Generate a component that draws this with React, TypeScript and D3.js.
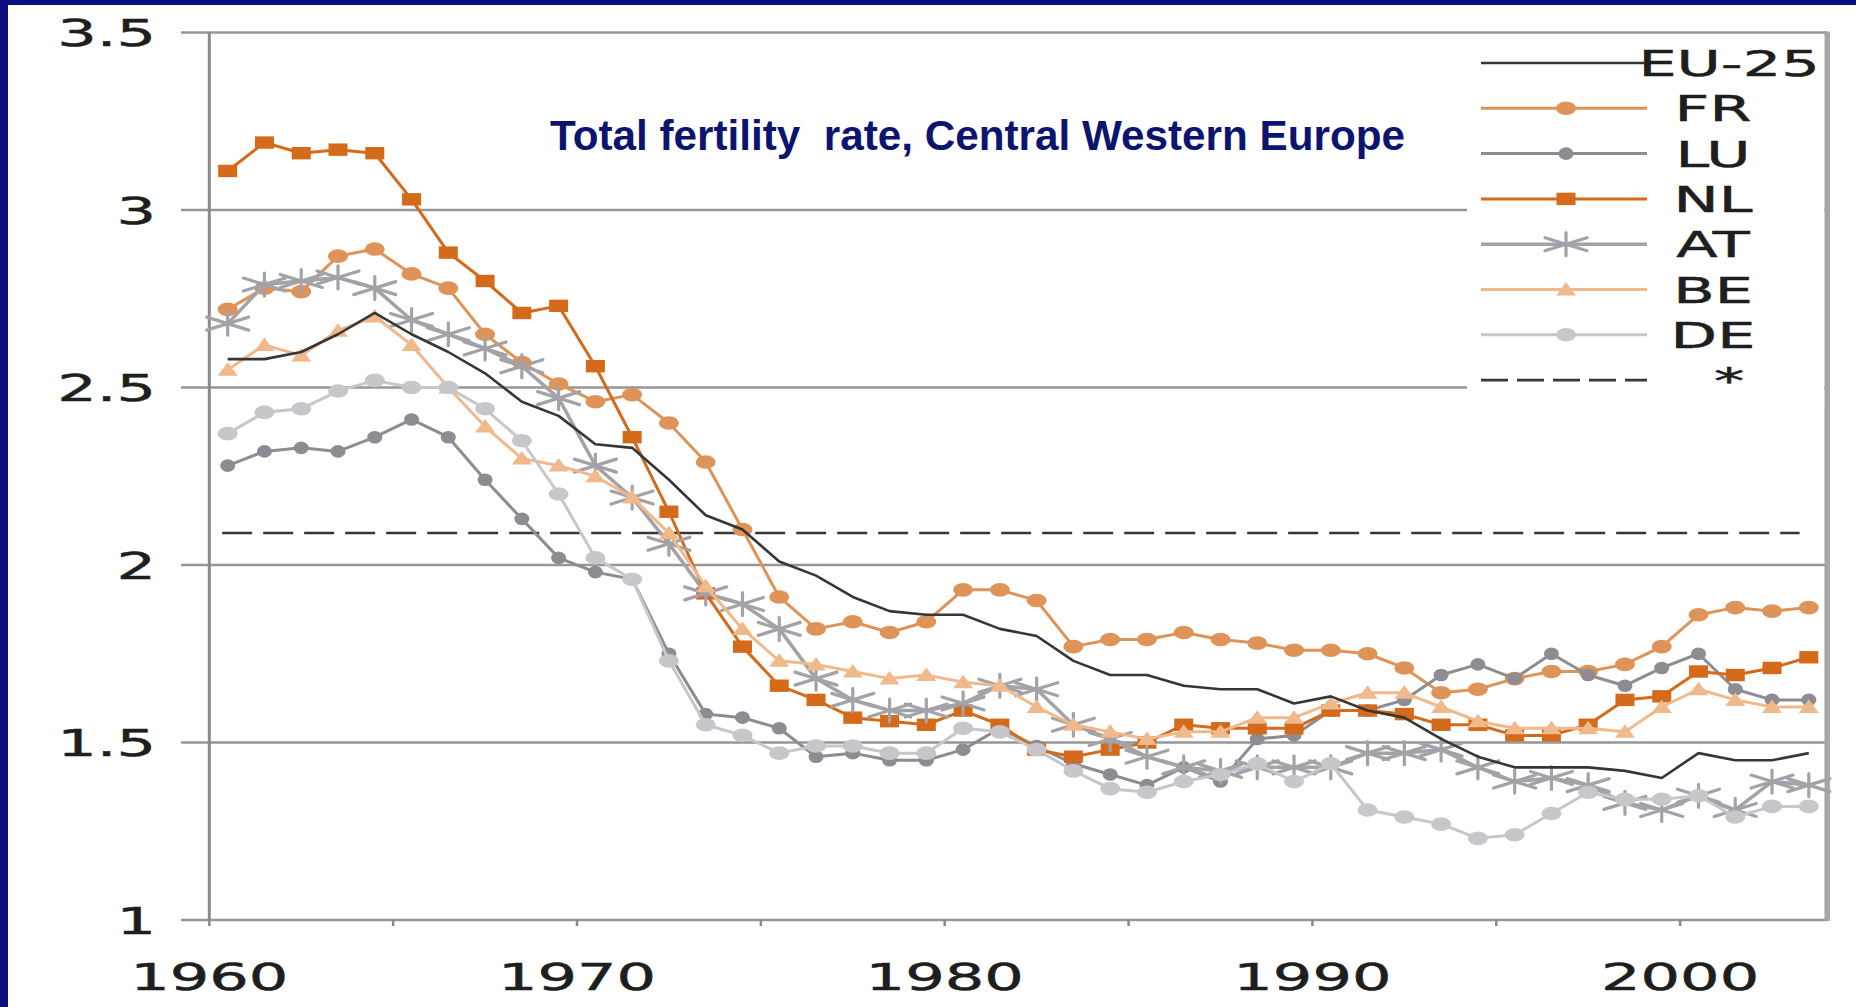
import React from 'react';
import * as d3 from 'd3';

const years = [1960, 1961, 1962, 1963, 1964, 1965, 1966, 1967, 1968, 1969,
  1970, 1971, 1972, 1973, 1974, 1975, 1976, 1977, 1978, 1979,
  1980, 1981, 1982, 1983, 1984, 1985, 1986, 1987, 1988, 1989,
  1990, 1991, 1992, 1993, 1994, 1995, 1996, 1997, 1998, 1999,
  2000, 2001, 2002, 2003];

const eu25 = [2.58, 2.58, 2.60, 2.65, 2.71, 2.65, 2.60, 2.54, 2.46, 2.42,
  2.34, 2.33, 2.24, 2.14, 2.10, 2.01, 1.97, 1.91, 1.87, 1.86,
  1.86, 1.82, 1.80, 1.73, 1.69, 1.69, 1.66, 1.65, 1.65, 1.61,
  1.63, 1.59, 1.57, 1.51, 1.46, 1.43, 1.43, 1.43, 1.42, 1.40,
  1.47, 1.45, 1.45, 1.47];
const fr = [2.72, 2.78, 2.77, 2.87, 2.89, 2.82, 2.78, 2.65, 2.57, 2.51,
  2.46, 2.48, 2.40, 2.29, 2.10, 1.91, 1.82, 1.84, 1.81, 1.84,
  1.93, 1.93, 1.90, 1.77, 1.79, 1.79, 1.81, 1.79, 1.78, 1.76,
  1.76, 1.75, 1.71, 1.64, 1.65, 1.68, 1.70, 1.70, 1.72, 1.77,
  1.86, 1.88, 1.87, 1.88];
const lu = [2.28, 2.32, 2.33, 2.32, 2.36, 2.41, 2.36, 2.24, 2.13, 2.02,
  1.98, 1.96, 1.75, 1.58, 1.57, 1.54, 1.46, 1.47, 1.45, 1.45,
  1.48, 1.54, 1.49, 1.44, 1.41, 1.38, 1.43, 1.39, 1.51, 1.52,
  1.59, 1.59, 1.62, 1.69, 1.72, 1.68, 1.75, 1.69, 1.66, 1.71,
  1.75, 1.65, 1.62, 1.62];
const nl = [3.11, 3.19, 3.16, 3.17, 3.16, 3.03, 2.88, 2.80, 2.71, 2.73,
  2.56, 2.36, 2.15, 1.92, 1.77, 1.66, 1.62, 1.57, 1.56, 1.55,
  1.59, 1.55, 1.48, 1.46, 1.48, 1.50, 1.55, 1.54, 1.54, 1.54,
  1.59, 1.59, 1.58, 1.55, 1.55, 1.52, 1.52, 1.55, 1.62, 1.63,
  1.70, 1.69, 1.71, 1.74];
const at = [2.68, 2.79, 2.80, 2.81, 2.78, 2.69, 2.65, 2.61, 2.56, 2.47,
  2.28, 2.19, 2.06, 1.92, 1.89, 1.82, 1.68, 1.62, 1.59, 1.59,
  1.61, 1.66, 1.65, 1.55, 1.51, 1.46, 1.43, 1.42, 1.43, 1.43,
  1.43, 1.47, 1.47, 1.48, 1.43, 1.39, 1.40, 1.38, 1.33, 1.31,
  1.35, 1.31, 1.39, 1.38];
const be = [2.55, 2.62, 2.59, 2.66, 2.70, 2.62, 2.50, 2.39, 2.30, 2.28,
  2.25, 2.19, 2.09, 1.94, 1.82, 1.73, 1.72, 1.70, 1.68, 1.69,
  1.67, 1.66, 1.60, 1.55, 1.53, 1.51, 1.53, 1.53, 1.57, 1.57,
  1.61, 1.64, 1.64, 1.60, 1.56, 1.54, 1.54, 1.54, 1.53, 1.60,
  1.65, 1.62, 1.60, 1.60];
const de = [2.37, 2.43, 2.44, 2.49, 2.52, 2.50, 2.50, 2.44, 2.35, 2.20,
  2.02, 1.96, 1.73, 1.55, 1.52, 1.47, 1.49, 1.49, 1.47, 1.47,
  1.54, 1.53, 1.48, 1.42, 1.37, 1.36, 1.39, 1.41, 1.44, 1.39,
  1.44, 1.31, 1.29, 1.27, 1.23, 1.24, 1.30, 1.36, 1.34, 1.34,
  1.35, 1.29, 1.32, 1.32];

const replacementLevel = 2.09;

const yTicks = [1, 1.5, 2, 2.5, 3, 3.5];
const yTickLabels = ['1', '1.5', '2', '2.5', '3', '3.5'];
const xTickPositions = [1959.5, 1964.5, 1969.5, 1974.5, 1979.5, 1984.5, 1989.5, 1994.5, 1999.5];
const xLabelPositions = [1959.5, 1969.5, 1979.5, 1989.5, 1999.5];
const xTickLabels = ['1960', '1970', '1980', '1990', '2000'];

const legendLabels = ['EU-25', 'FR', 'LU', 'NL', 'AT', 'BE', 'DE', '*'];
const titleText = 'Total fertility  rate, Central Western Europe';

type MarkerType = 'none' | 'circle' | 'smallCircle' | 'square' | 'star' | 'triangle' | 'dash';

const series: { name: string; values: number[] | null; color: string; width: number; marker: MarkerType }[] = [
  { name: 'EU-25', values: eu25, color: '#363636', width: 2.6, marker: 'none' },
  { name: 'FR', values: fr, color: '#de9458', width: 3, marker: 'circle' },
  { name: 'LU', values: lu, color: '#8c8c92', width: 3, marker: 'smallCircle' },
  { name: 'NL', values: nl, color: '#d46a1a', width: 3, marker: 'square' },
  { name: 'AT', values: at, color: '#a2a2a8', width: 3.5, marker: 'star' },
  { name: 'BE', values: be, color: '#f0b98c', width: 3, marker: 'triangle' },
  { name: 'DE', values: de, color: '#c6c6cb', width: 3, marker: 'circle' },
  { name: '*', values: null, color: '#363636', width: 2.6, marker: 'dash' },
];

const W = 1856;
const H = 1007;
const SX = 1.68;
const AXIS_FONT = '"DejaVu Sans", Verdana, sans-serif';

const x = d3.scaleLinear().domain([1959.5, 2003.5]).range([209.3, 1827.2]);
const y = d3.scaleLinear().domain([1, 3.5]).range([920, 32.5]);

function Marker({ type, cx, cy, color }: { type: MarkerType; cx: number; cy: number; color: string }) {
  switch (type) {
    case 'circle':
      return <ellipse cx={cx} cy={cy} rx={10} ry={6.8} fill={color} />;
    case 'smallCircle':
      return <ellipse cx={cx} cy={cy} rx={7.5} ry={6.3} fill={color} />;
    case 'square':
      return <rect x={cx - 9.5} y={cy - 6.2} width={19} height={12.4} fill={color} />;
    case 'triangle':
      return <path d={`M${cx - 10},${cy + 6} L${cx},${cy - 7.5} L${cx + 10},${cy + 6} Z`} fill={color} />;
    case 'star': {
      const rv = 11.5;
      const dx = 21;
      const dy = 6.5;
      return (
        <g stroke={color} strokeWidth={3.2} strokeLinecap="round">
          <line x1={cx} y1={cy - rv} x2={cx} y2={cy + rv} />
          <line x1={cx - dx} y1={cy - dy} x2={cx + dx} y2={cy + dy} />
          <line x1={cx - dx} y1={cy + dy} x2={cx + dx} y2={cy - dy} />
        </g>
      );
    }
    default:
      return null;
  }
}

function StretchText({ tx, ty, text, size, anchor, fill }: { tx: number; ty: number; text: string; size: number; anchor: 'start' | 'middle' | 'end'; fill: string }) {
  return (
    <g transform={`translate(${tx},${ty}) scale(${SX},1)`}>
      <text x={0} y={0} fontFamily={AXIS_FONT} fontSize={size} textAnchor={anchor} fill={fill}
        stroke={fill} strokeWidth={0.5}>{text}</text>
    </g>
  );
}

export default function App() {
  const lineGen = d3.line<number>().x((_, i) => x(years[i])).y((d) => y(d));
  const left = 181;
  const right = x.range()[1];
  const plotTop = y(3.5);
  const plotBottom = y(1);
  const gridColor = '#969696';

  const legendTop = 63;
  const legendStep = 45.3;
  const legLineX1 = 1481;
  const legLineX2 = 1647;
  const legMarkerX = 1566;

  const drawOrder = [1, 2, 3, 4, 5, 6, 0];

  return (
    <svg width={W} height={H} viewBox={`0 0 ${W} ${H}`} style={{ position: 'fixed', left: 0, top: 0, display: 'block' }}>
      <rect x={0} y={0} width={W} height={H} fill="#ffffff" />
      {/* slide border */}
      <rect x={0} y={0} width={W} height={5} fill="#0a0f80" />
      <rect x={0} y={0} width={8} height={H} fill="#0a0f80" />

      {/* gridlines */}
      {yTicks.map((t) => (
        <line key={`g${t}`} x1={left} x2={right} y1={y(t)} y2={y(t)} stroke={gridColor} strokeWidth={2.6} />
      ))}
      {/* y axis */}
      <line x1={x(1959.5)} x2={x(1959.5)} y1={plotTop} y2={plotBottom} stroke="#8a8a8a" strokeWidth={3} />
      {/* right frame */}
      <line x1={right} x2={right} y1={plotTop - 1} y2={plotBottom + 1} stroke="#a6a6a6" strokeWidth={5.5} />
      {/* x ticks */}
      {xTickPositions.map((t) => (
        <line key={`xt${t}`} x1={x(t)} x2={x(t)} y1={plotBottom} y2={plotBottom + 6} stroke="#8a8a8a" strokeWidth={2.5} />
      ))}

      {/* y tick labels */}
      {yTicks.map((t, i) => (
        <StretchText key={`yl${t}`} tx={156} ty={y(t) + 13.5} text={yTickLabels[i]} size={37} anchor="end" fill="#1e1e1e" />
      ))}
      {/* x tick labels */}
      {xLabelPositions.map((t, i) => (
        <StretchText key={`xl${t}`} tx={x(t)} ty={990} text={xTickLabels[i]} size={37} anchor="middle" fill="#1e1e1e" />
      ))}

      {/* replacement level dashed line */}
      <line x1={x(1959.85)} x2={x(2002.75)} y1={y(replacementLevel)} y2={y(replacementLevel)} stroke="#363636" strokeWidth={2.6} strokeDasharray="30 11" />

      {/* series */}
      {drawOrder.map((si) => {
        const s = series[si];
        if (!s.values) return null;
        return (
          <g key={s.name}>
            <path d={lineGen(s.values) || ''} fill="none" stroke={s.color} strokeWidth={s.width} strokeLinejoin="round" />
            {s.values.map((v, i) => (
              <Marker key={i} type={s.marker} cx={x(years[i])} cy={y(v)} color={s.color} />
            ))}
          </g>
        );
      })}

      {/* legend */}
      <rect x={1467} y={37} width={right - 3 - 1467} height={365} fill="#ffffff" />
      {series.map((s, i) => {
        const ly = legendTop + i * legendStep;
        const label = legendLabels[i];
        const lx = label === 'EU-25' || label === '*' ? 1729 : 1713;
        return (
          <g key={`leg${s.name}`}>
            <line x1={legLineX1} x2={label === 'EU-25' ? 1644 : legLineX2} y1={ly} y2={ly} stroke={s.color} strokeWidth={s.marker === 'dash' ? 2.6 : s.width}
              strokeDasharray={s.marker === 'dash' ? '27 9' : undefined} />
            <Marker type={s.marker} cx={legMarkerX} cy={ly} color={s.color} />
            <StretchText tx={lx} ty={ly + 13} text={label} size={36} anchor="middle" fill="#1e1e1e" />
          </g>
        );
      })}

      {/* title */}
      <text x={550} y={150} fontFamily='"Liberation Sans", Arial, sans-serif' fontWeight="bold" fontSize={42} fill="#0c1470"
        textLength={855} lengthAdjust="spacingAndGlyphs" style={{ whiteSpace: 'pre' }}>{titleText}</text>
    </svg>
  );
}
